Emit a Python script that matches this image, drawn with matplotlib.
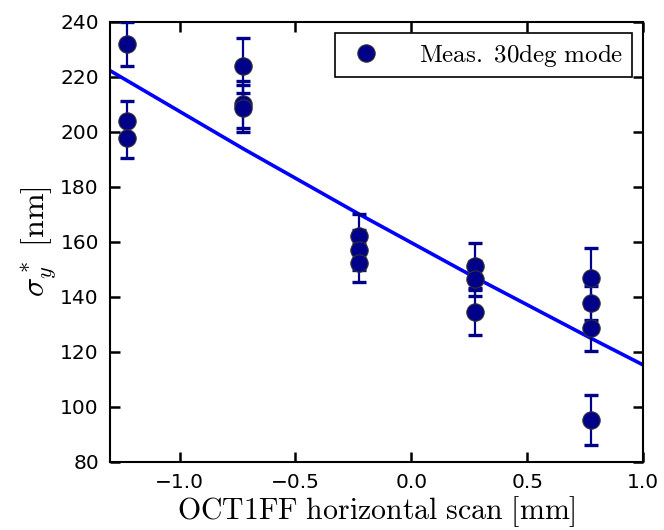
import numpy as np
import matplotlib
matplotlib.use("Agg")
import matplotlib.pyplot as plt

# measured beam size vs OCT1FF horizontal offset
scan_x = [-1.225, -1.225, -1.225,
          -0.725, -0.725, -0.725,
          -0.225, -0.225, -0.225,
          0.275, 0.275, 0.275,
          0.775, 0.775, 0.775, 0.775]
sigma_y = [232.0, 204.0, 197.6,
           224.0, 210.0, 208.5,
           162.0, 157.0, 152.3,
           151.0, 146.6, 134.5,
           146.7, 137.6, 128.5, 95.2]
sigma_err = [8.0, 7.0, 7.0,
             10.0, 8.5, 8.5,
             8.0, 7.3, 7.0,
             8.4, 6.3, 8.6,
             10.9, 6.2, 8.1, 9.2]

# fit curve
fit_x = [-1.3, -0.725, -0.225, 0.275, 0.775, 1.0]
fit_y = [222.2, 193.8, 170.0, 147.0, 124.9, 115.2]

plt.rcParams['mathtext.fontset'] = 'cm'

fig = plt.figure(figsize=(6.64, 5.30), dpi=100)
ax = fig.add_axes([0.1657, 0.1289, 0.8027, 0.8302])

ax.plot(fit_x, fit_y, color='#0000ff', linewidth=2.6, zorder=2)
ax.errorbar(scan_x, sigma_y, yerr=sigma_err, fmt='none', ecolor='#000088',
            elinewidth=1.6, capsize=5, capthick=2.4, zorder=3)
ax.plot(scan_x, sigma_y, 'o', color='#000088', markersize=12.5,
        markeredgecolor='#333333', markeredgewidth=0.8, zorder=4,
        label=r'$\mathrm{Meas.\ 30deg\ mode}$')

ax.set_xlim(-1.3, 1.0)
ax.set_ylim(80, 240)
ax.set_xticks([-1.0, -0.5, 0.0, 0.5, 1.0])
ax.set_yticks(np.arange(80, 241, 20))

ax.tick_params(direction='in', top=True, right=True, length=7, width=1.8,
               labelsize=14.5, pad=8)
for s in ax.spines.values():
    s.set_linewidth(1.5)

ax.set_xlabel(r'$\mathrm{OCT1FF\ horizontal\ scan\ [mm]}$', fontsize=21.5, labelpad=2)
ax.set_ylabel(r'$\sigma_y^*\ \mathrm{[nm]}$', fontsize=23, labelpad=2)

leg = ax.legend(loc='upper right', numpoints=1, fontsize=18, fancybox=False,
                framealpha=1, edgecolor='black', borderaxespad=0.45,
                handletextpad=1.2, borderpad=0.35, handlelength=1.8)
leg.get_frame().set_linewidth(1.2)

fig.savefig('out.png', dpi=100)
